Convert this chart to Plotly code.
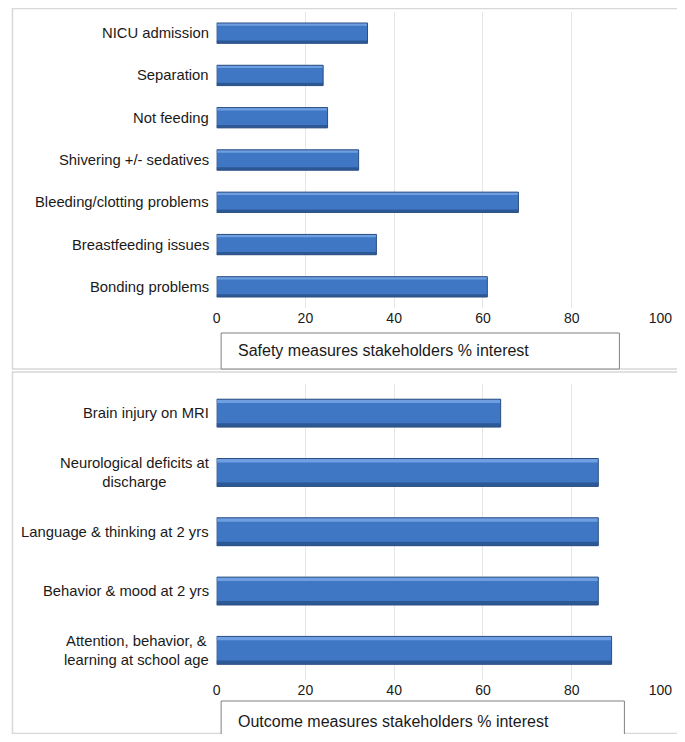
import plotly.graph_objects as go

# measured on earlier renders: the photographed page shows page-x as 4.2 + 0.976 * x,
# page-y unchanged, and the body keeps an 8px margin; positions below are in
# reference-image pixels and are converted to paper fractions by px()/py()
OFF = 8
SX, X0 = 0.976, 4.2
W, H = 685, 726

safety_labels = [
    "NICU admission",
    "Separation",
    "Not feeding",
    "Shivering +/- sedatives",
    "Bleeding/clotting problems",
    "Breastfeeding issues",
    "Bonding problems",
]
safety_values = [34, 24, 25, 32, 68, 36, 61]

outcome_labels = [
    "Brain injury on MRI",
    "Neurological deficits at<br>discharge",
    "Language & thinking at 2 yrs",
    "Behavior & mood at 2 yrs",
    "Attention, behavior, &<br>learning at school age",
]
outcome_values = [64, 86, 86, 86, 89]

x_ticks = [0, 20, 40, 60, 80, 100]

safety_title = "Safety measures stakeholders % interest"
outcome_title = "Outcome measures stakeholders % interest"

FONT = "Liberation Sans, Arial, Helvetica, sans-serif"
GRID = "#e6e6e6"
TXT = "#1a1a1a"


def px(x):
    return min(max(((x - X0) / SX - OFF) / W, 0.5 / W), (W - 0.75) / W)


def py(y):
    return 1 - (y - OFF) / H


def bars(fig, values, labels, xa, ya, width):
    # a light top edge and dark bottom edge to hint at the bevelled bars
    half = width / 2
    layers = [
        ("#3f77c4", -half, width),
        ("#6e9fe2", -half, width * 0.14),
        ("#2c5996", half - width * 0.14, width * 0.14),
    ]
    for color, off, w in layers:
        fig.add_trace(go.Bar(
            x=values, y=labels, orientation="h", width=w, offset=off,
            marker=dict(color=color, line=dict(width=0)),
            xaxis=xa, yaxis=ya, showlegend=False, hoverinfo="skip",
        ))
    fig.add_trace(go.Bar(
        x=values, y=labels, orientation="h", width=width, offset=-half,
        marker=dict(color="rgba(0,0,0,0)", line=dict(color="#2b4f80", width=1)),
        xaxis=xa, yaxis=ya, showlegend=False,
    ))


fig = go.Figure()
bars(fig, safety_values, safety_labels, "x", "y", 0.48)
bars(fig, outcome_values, outcome_labels, "x2", "y2", 0.47)

xdom = [px(216.5), px(660)]
xaxis_common = dict(
    range=[0, 100], tickvals=x_ticks, showgrid=True, gridcolor=GRID, gridwidth=1,
    zeroline=False, showline=False, ticks="", domain=xdom,
    tickfont=dict(family=FONT, size=14, color=TXT),
)
yaxis_common = dict(
    autorange="reversed", showticklabels=False, showgrid=False, zeroline=False,
    showline=False, ticks="",
)

fig.update_layout(
    width=W, height=H,
    margin=dict(l=0, r=0, t=0, b=0),
    paper_bgcolor="white", plot_bgcolor="white",
    barmode="overlay",
    font=dict(family=FONT, color=TXT),
    xaxis=dict(anchor="y", **xaxis_common),
    yaxis=dict(anchor="x", domain=[py(308), py(12)], **yaxis_common),
    xaxis2=dict(anchor="y2", **xaxis_common),
    yaxis2=dict(anchor="x2", domain=[py(680), py(383.5)], **yaxis_common),
)

# category labels, centred multi-line like the original
for labels, xr, yr in [(safety_labels, "x domain", "y"), (outcome_labels, "x2 domain", "y2")]:
    for lab in labels:
        fig.add_annotation(
            text=lab, x=0, y=lab, xref=xr, yref=yr, xanchor="right", yanchor="middle",
            xshift=-6, showarrow=False, align="center",
            font=dict(family=FONT, size=14.8, color=TXT),
        )

# panel borders
fig.add_shape(type="rect", xref="paper", yref="paper", x0=px(1), x1=px(682), y0=py(369), y1=py(8.5),
              line=dict(color="#d8d8d8", width=1.5), layer="below")
fig.add_shape(type="rect", xref="paper", yref="paper", x0=px(1), x1=px(682), y0=py(733.5), y1=py(372),
              line=dict(color="#d8d8d8", width=1.5), layer="below")

# title boxes under each chart
for title, y0, y1, x1 in [(safety_title, 333, 369, 619), (outcome_title, 701, 760, 624)]:
    fig.add_shape(type="rect", xref="paper", yref="paper", x0=px(221), x1=px(x1), y0=py(y1), y1=py(y0),
                  line=dict(color="#808080", width=1), fillcolor="white")
    fig.add_annotation(
        text=title, x=px(236), y=py((y0 + min(y1, 742)) / 2), xref="paper", yref="paper",
        xanchor="left", yanchor="middle", showarrow=False,
        font=dict(family=FONT, size=16, color=TXT),
    )

fig.write_html("out.html")
